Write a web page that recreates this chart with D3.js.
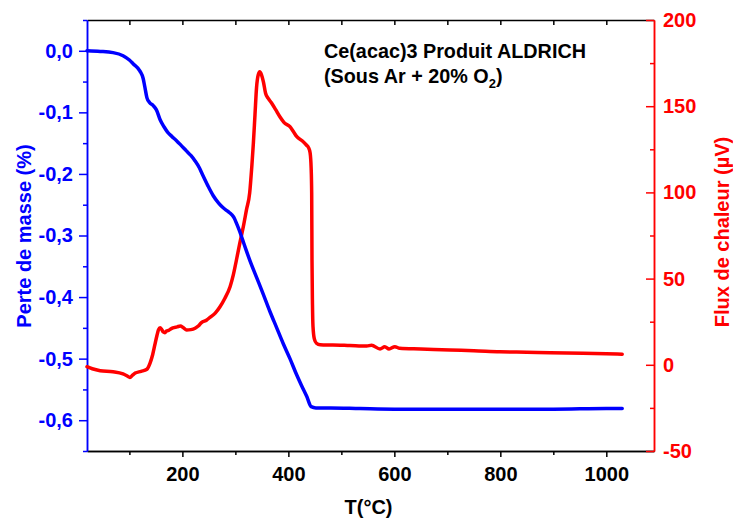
<!DOCTYPE html>
<html>
<head>
<meta charset="utf-8">
<script src="https://cdn.jsdelivr.net/npm/d3@7"></script>
<style>
  html, body { margin: 0; padding: 0; background: #fff; }
  svg { display: block; font-family: "Liberation Sans", Arial, sans-serif; font-weight: bold; }
</style>
</head>
<body>
<svg id="chart" width="733" height="521"></svg>
<script>
// Temperature (°C) of the TG (mass loss) record
const tgTemp = [20, 45, 69, 88, 100, 107, 120, 126, 129, 133, 138, 145, 151, 158, 165, 172, 180, 189, 198, 208,
  216, 224, 232, 239, 248, 258, 268, 277, 286, 293, 298, 302, 308, 314, 320, 328, 340, 352, 365, 378,
  390, 403, 415, 425, 435, 443, 452, 480, 535, 600, 705, 800, 900, 1000, 1030];
// Mass loss (%)
const tgMass = [0.000, -0.001, -0.003, -0.008, -0.015, -0.021, -0.033, -0.045, -0.058, -0.076, -0.084, -0.089, -0.096, -0.112, -0.123, -0.132, -0.139, -0.146, -0.154, -0.163,
  -0.170, -0.179, -0.190, -0.203, -0.219, -0.235, -0.247, -0.255, -0.261, -0.266, -0.272, -0.280, -0.293, -0.308, -0.323, -0.342, -0.368, -0.394, -0.423, -0.450,
  -0.475, -0.500, -0.525, -0.544, -0.562, -0.578, -0.580, -0.580, -0.581, -0.582, -0.582, -0.582, -0.582, -0.581, -0.581];

// Temperature (°C) of the DTA (heat flow) record
const dtaTemp = [20, 30, 45, 69, 88, 96, 101, 106, 111, 122, 133, 139, 144, 148, 152, 155, 158, 161, 164, 167,
  170, 174, 178, 182, 190, 196, 202, 208, 216, 224, 230, 236, 246, 252, 262, 271, 280, 290, 296, 302,
  308, 315, 321, 327, 331, 334, 337, 340, 343, 346, 349, 353, 357, 362, 368, 376, 384, 392, 403, 410,
  416, 426, 434, 438, 441, 443, 444, 444.6, 445.5, 446.5, 449, 453, 460, 472, 484, 516, 548, 557, 573, 582,
  590, 601, 610, 650, 705, 750, 799, 850, 894, 956, 1000, 1030];
// Heat flow (µV)
const dtaFlux = [-1.1, -2.3, -3.4, -4.0, -5.3, -6.5, -7.3, -6.0, -4.8, -3.8, -2.6, 1.0, 6.0, 11.5, 17.0, 20.4, 21.5, 20.5, 19.0, 18.6,
  19.6, 20.0, 20.8, 21.4, 22.0, 22.5, 21.5, 20.2, 20.4, 21.2, 22.5, 24.5, 26.0, 27.5, 30.0, 33.7, 38.5, 45.3, 52.0, 60.8,
  70.0, 80.1, 90.0, 99.7, 115, 128.7, 145, 161, 168, 170, 168.5, 164, 157.5, 154.5, 152.0, 148.0, 143.9, 140.5, 138.1, 135.0,
  132.3, 130.0, 127.5, 126.0, 123.0, 114, 99.7, 60.8, 35, 22.1, 15, 12.5, 11.6, 11.5, 11.5, 11.2, 10.9, 11.3, 9.2, 10.5,
  9.2, 10.5, 9.6, 9.2, 8.6, 8.2, 7.6, 7.3, 7.0, 6.7, 6.4, 6.1];

// Axis ticks
const xMajor = [200, 400, 600, 800, 1000];
const xMinor = [100, 300, 500, 700, 900];
const massMajor = [0, -0.1, -0.2, -0.3, -0.4, -0.5, -0.6];
const massMinor = [0.05, -0.05, -0.15, -0.25, -0.35, -0.45, -0.55, -0.65];
const fluxMajor = [200, 150, 100, 50, 0, -50];
const fluxMinor = [175, 125, 75, 25, -25];

const titleLine1 = "Ce(acac)3 Produit ALDRICH";
const xTitle = "T(°C)";
const massTitle = "Perte de masse (%)";
const fluxTitle = "Flux de chaleur (µV)";

const BLUE = "#0000ff", RED = "#ff0000";
const L = 87, R = 654, T = 20, B = 451;

// French-style numbers: comma decimal, plain hyphen minus
const fr = d3.formatLocale({ decimal: ",", thousands: "", grouping: [3], currency: ["", ""], minus: "-" });
const massFmt = d => (Math.abs(d) < 1e-9 ? "0,0" : fr.format(".1f")(d));
const intFmt = fr.format("d");

const svg = d3.select("#chart");
const x = d3.scaleLinear().domain([20, 1090]).range([L, R]);
const yMass = d3.scaleLinear().domain([-0.65, 0.05]).range([B, T]);
const yFlux = d3.scaleLinear().domain([-50, 200]).range([B, T]);

function styleAxis(g, color, size) {
  g.select(".domain").attr("stroke", color).attr("stroke-width", 1.5);
  g.selectAll(".tick line").attr("stroke", color).attr("stroke-width", 1.5);
  g.selectAll(".tick text").attr("fill", color).attr("font-size", size)
    .attr("font-family", "'Liberation Sans', Arial, sans-serif").attr("font-weight", "bold");
}

// Bottom axis (outward ticks)
svg.append("g").attr("transform", `translate(0,${B})`)
  .call(d3.axisBottom(x).tickValues(xMinor).tickSize(4).tickSizeOuter(0).tickFormat(""))
  .call(g => styleAxis(g, "#000", 20));
svg.append("g").attr("transform", `translate(0,${B})`)
  .call(d3.axisBottom(x).tickValues(xMajor).tickSize(6).tickSizeOuter(0).tickPadding(10).tickFormat(intFmt))
  .call(g => styleAxis(g, "#000", 20));

// Top axis (inward ticks)
svg.append("g").attr("transform", `translate(0,${T})`)
  .call(d3.axisTop(x).tickValues(xMinor.concat(xMajor)).tickSize(-5).tickSizeOuter(0).tickFormat(""))
  .call(g => styleAxis(g, "#000", 20));

// Left axis: mass loss
svg.append("g").attr("transform", `translate(${L},0)`)
  .call(d3.axisLeft(yMass).tickValues(massMinor).tickSize(4).tickSizeOuter(0).tickFormat(""))
  .call(g => styleAxis(g, BLUE, 20));
svg.append("g").attr("transform", `translate(${L},0)`)
  .call(d3.axisLeft(yMass).tickValues(massMajor).tickSize(8).tickSizeOuter(0).tickPadding(6).tickFormat(massFmt))
  .call(g => styleAxis(g, BLUE, 20));

// Right axis: heat flow (inward ticks)
svg.append("g").attr("transform", `translate(${R},0)`)
  .call(d3.axisRight(yFlux).tickValues(fluxMinor).tickSize(-4).tickSizeOuter(0).tickFormat(""))
  .call(g => styleAxis(g, RED, 20));
svg.append("g").attr("transform", `translate(${R},0)`)
  .call(d3.axisRight(yFlux).tickValues(fluxMajor).tickSize(-8).tickSizeOuter(0).tickPadding(9).tickFormat(intFmt))
  .call(g => styleAxis(g, RED, 20));

// Curves
const tgLine = d3.line().x(d => x(d[0])).y(d => yMass(d[1])).curve(d3.curveMonotoneX);
const dtaLine = d3.line().x(d => x(d[0])).y(d => yFlux(d[1])).curve(d3.curveMonotoneX);

svg.append("path").datum(dtaTemp.map((t, i) => [t, dtaFlux[i]]))
  .attr("d", dtaLine).attr("fill", "none").attr("stroke", RED)
  .attr("stroke-width", 3.5).attr("stroke-linejoin", "round").attr("stroke-linecap", "round");
svg.append("path").datum(tgTemp.map((t, i) => [t, tgMass[i]]))
  .attr("d", tgLine).attr("fill", "none").attr("stroke", BLUE)
  .attr("stroke-width", 3.5).attr("stroke-linejoin", "round").attr("stroke-linecap", "round");

// Axis titles
svg.append("text").attr("x", (L + R) / 2 - 2).attr("y", 514).attr("text-anchor", "middle")
  .attr("font-size", 20).attr("fill", "#000").text(xTitle);
svg.append("text").attr("transform", "translate(31,236) rotate(-90)").attr("text-anchor", "middle")
  .attr("font-size", 20).attr("fill", BLUE).text(massTitle);
svg.append("text").attr("transform", "translate(729,232) rotate(-90)").attr("text-anchor", "middle")
  .attr("font-size", 20).attr("fill", RED).text(fluxTitle);

// Sample annotation
svg.append("text").attr("x", 324).attr("y", 58).attr("font-size", 19.8).attr("fill", "#000").text(titleLine1);
const t2 = svg.append("text").attr("x", 324).attr("y", 83).attr("font-size", 19.8).attr("fill", "#000");
t2.append("tspan").text("(Sous Ar + 20% O");
t2.append("tspan").attr("font-size", 13).attr("dy", 5).text("2");
t2.append("tspan").attr("dy", -5).text(")");
</script>
</body>
</html>
